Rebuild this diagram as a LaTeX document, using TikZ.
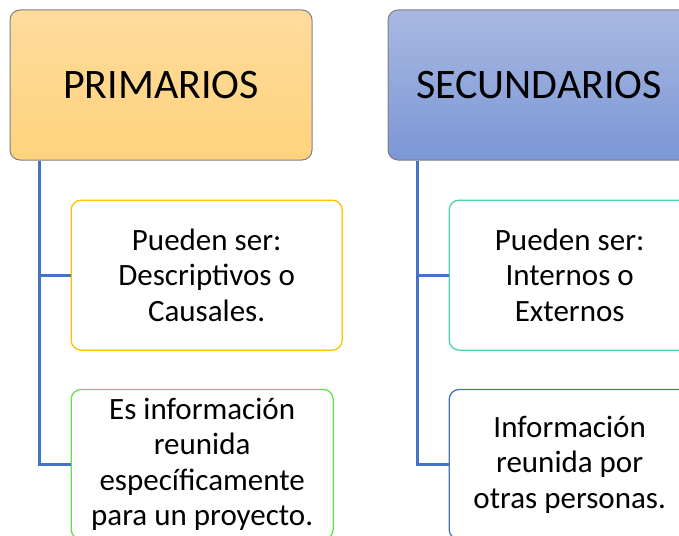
\documentclass[tikz,border=0pt]{standalone}
\usepackage{fontspec}
\setmainfont{Carlito}
\usetikzlibrary{positioning}
\definecolor{linkblue}{HTML}{4472C4}
\definecolor{headgray}{HTML}{7F7F7F}

\begin{document}
\begin{tikzpicture}[x=1pt, y=1pt,
	head/.style={draw=headgray, line width=1pt, rounded corners=10pt, minimum width=302pt, minimum height=150pt,
		font=\fontsize{42}{50}\selectfont},
	item/.style={draw, line width=1.3pt, fill=white, rounded corners=10pt, minimum height=150pt, align=center,
		font=\fontsize{31}{35.5}\selectfont},
	link/.style={draw=linkblue, line width=2.8pt}]
\useasboundingbox (0,0) rectangle (679,-535);
\clip (0,0) rectangle (679,-535);
\node[head, top color={rgb,255:red,255;green,219;blue,156}, bottom color={rgb,255:red,255;green,211;blue,125}]
	(prim) at (161,-85) {PRIMARIOS};
\node[head, right=75pt of prim, top color={rgb,255:red,168;green,184;blue,225}, bottom color={rgb,255:red,124;green,151;blue,214}]
	(secu) {SECUNDARIOS};
\node[item, draw={rgb,255:red,255;green,192;blue,0}, minimum width=271pt, below right=39pt and 61pt of prim.south west]
	(p1) {Pueden ser:\\Descriptivos o\\Causales.};
\node[item, draw={rgb,255:red,102;green,224;blue,74}, minimum width=262pt, below right=38pt and 0pt of p1.south west]
	(p2) {Es información\\reunida\\específicamente\\para un proyecto.};
\node[item, draw={rgb,255:red,72;green,214;blue,166}, minimum width=241pt, below right=39pt and 61pt of secu.south west]
	(s1) {Pueden ser:\\Internos o\\Externos};
\node[item, draw=linkblue, minimum width=241pt, below right=38pt and 0pt of s1.south west]
	(s2) {Información\\reunida por\\otras personas.};
% connectors
\coordinate (ptrunk) at ([xshift=30pt]prim.south west);
\coordinate (strunk) at ([xshift=30pt]secu.south west);
\draw[link] (ptrunk) |- (p1.west);
\draw[link] (ptrunk) |- (p2.west);
\draw[link] (strunk) |- (s1.west);
\draw[link] (strunk) |- (s2.west);
\end{tikzpicture}
\end{document}
